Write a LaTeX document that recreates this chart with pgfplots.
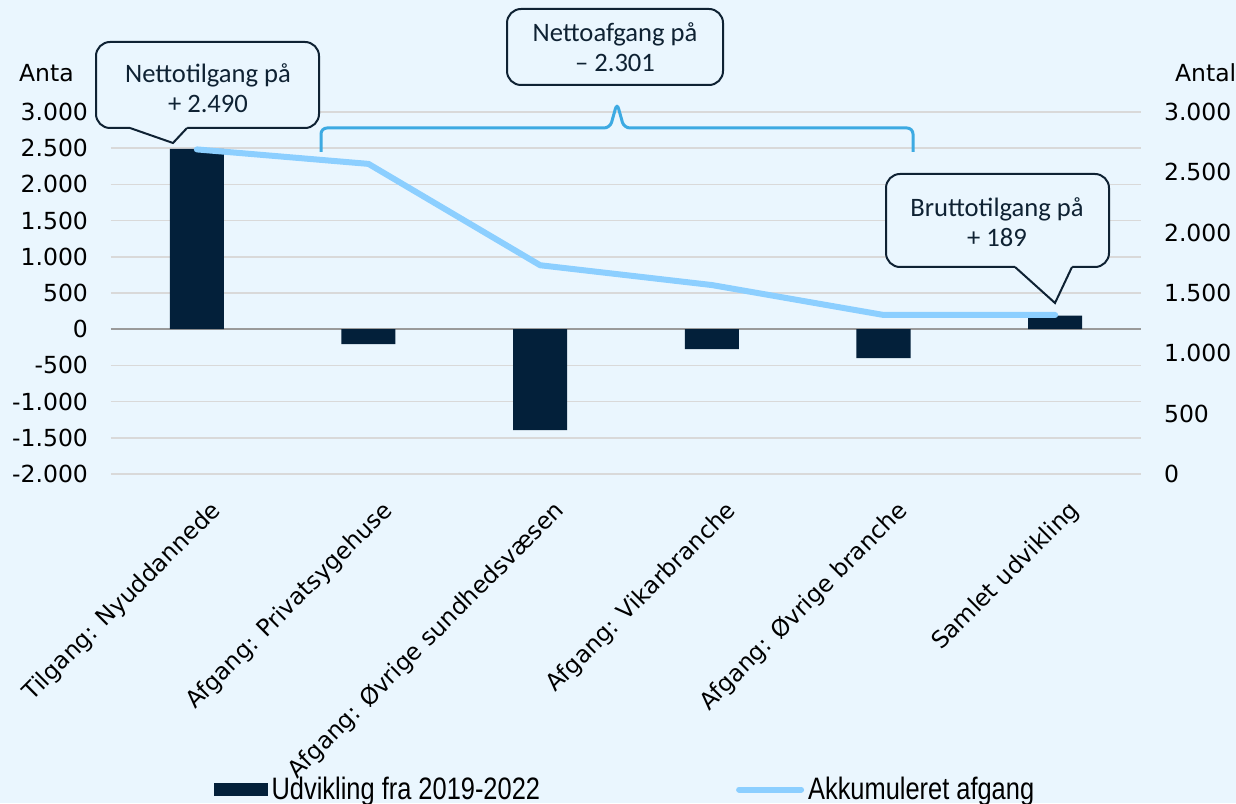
\documentclass[border=0pt]{standalone}
\usepackage{fontspec}
\setmainfont{DejaVu Sans}
\newfontfamily\calfont{Carlito}
\newfontfamily\condfont[FakeStretch=0.82]{Liberation Sans}
\usepackage{pgfplots}
\pgfplotsset{compat=1.18}
\definecolor{bg}{HTML}{EAF6FE}
\definecolor{navy}{HTML}{03203A}
\definecolor{lineblue}{HTML}{8CCFFF}
\definecolor{braceblue}{HTML}{3DAAE2}
\definecolor{boxc}{HTML}{0F2233}
\definecolor{gridc}{HTML}{D9D9D9}
\definecolor{zeroc}{HTML}{9A9A9A}
\begin{document}
\begin{tikzpicture}
\fill[bg] (-55.5pt,-164.5pt) rectangle (562.5pt,237pt);
\useasboundingbox (-55.5pt,-164.5pt) rectangle (562.5pt,237pt);
\begin{axis}[
  at={(0,0)}, anchor=south west,
  width=515pt, height=181pt, scale only axis,
  xmin=-0.5, xmax=5.5, ymin=-2000, ymax=3000,
  axis line style={draw=none}, major tick length=0pt,
  ytick={-2000,-1500,...,3000},
  yticklabels={-2.000,-1.500,-1.000,-500,0,500,1.000,1.500,2.000,2.500,3.000},
  xtick={0,1,2,3,4,5},
  xticklabels={Tilgang: Nyuddannede,Afgang: Privatsygehuse,Afgang: Øvrige sundhedsvæsen,Afgang: Vikarbranche,Afgang: Øvrige branche,Samlet udvikling},
  tick label style={font=\fontsize{11.75}{14}\selectfont, text=black},
  yticklabel style={anchor=east, xshift=-8pt},
  xticklabel style={rotate=45, anchor=east, font=\fontsize{11.75}{14}\selectfont, xshift=-1pt, yshift=-19pt},
  ymajorgrids, grid style={gridc, line width=0.75pt},
  ybar, bar width=27pt,
]
\draw[zeroc, line width=0.75pt] (axis cs:-0.5,0) -- (axis cs:5.5,0);
\addplot[fill=navy, draw=none] coordinates {(0,2490)(1,-207)(2,-1395)(3,-276)(4,-400)(5,189)};
\end{axis}
\begin{axis}[
  at={(0,0)}, anchor=south west,
  width=515pt, height=181pt, scale only axis,
  xmin=-0.5, xmax=5.5, ymin=0, ymax=3000,
  axis line style={draw=none}, major tick length=0pt,
  xtick=\empty,
  ytick={0,500,...,3000},
  yticklabels={0,500,1.000,1.500,2.000,2.500,3.000},
  yticklabel pos=right,
  tick label style={font=\fontsize{11.75}{14}\selectfont, text=black},
  yticklabel style={anchor=west, xshift=8pt},
  legend columns=2,
  legend style={at={(0.5,-0.872)}, anchor=center, draw=none, fill=none,
    font=\condfont\fontsize{15.5}{17}\selectfont, inner sep=0pt,
    /tikz/every even column/.append style={column sep=96pt}},
  legend cell align=left,
]
\addlegendimage{legend image code/.code={\fill[navy] (0pt,-3pt) rectangle (26.5pt,3pt);}}
\addlegendentry{Udvikling fra 2019-2022}
\addplot[lineblue, line width=3pt, line join=round, line cap=round,
  legend image code/.code={\draw[lineblue, line width=3pt, line cap=round] (1pt,0pt) -- (32pt,0pt);}]
  coordinates {(0,2690)(1,2570)(2,1730)(3,1566)(4,1318)(5,1318)};
\addlegendentry{Akkumuleret afgang}
\end{axis}
\begin{scope}[x=0.5pt,y=-0.5pt,shift={(-55.5pt,237pt)}]
\node[anchor=west, font=\fontsize{11.75}{14}\selectfont] at (12,73) {Anta};
\node[anchor=west, font=\fontsize{11.75}{14}\selectfont] at (1168,73) {Antal};
% brace
\draw[braceblue, line width=1.5pt, rounded corners=3pt] (321,152) -- (321,128) -- (610,128) -- (617,103) -- (624,128) -- (913,128) -- (913,152);
% callout 1
\draw[boxc, line width=1pt, fill=bg, rounded corners=7pt] (96,42) rectangle (319,128);
\fill[bg] (130,125) -- (130,128) -- (173,143) -- (187,128) -- (187,125) -- cycle;
\draw[boxc, line width=1pt, line join=miter] (130,128) -- (173,143) -- (187,128);
\node[align=center, text=boxc, font=\calfont\fontsize{13.3}{15}\selectfont] at (208,88) {Nettotilgang på\\+ 2.490};
% callout 2
\draw[boxc, line width=1pt, fill=bg, rounded corners=7pt] (507,9) rectangle (723,85);
\node[align=center, text=boxc, font=\calfont\fontsize{13.3}{15}\selectfont] at (615,47) {Nettoafgang på\\– 2.301};
% callout 3
\draw[boxc, line width=1pt, fill=bg, rounded corners=7pt] (886,174) rectangle (1109,267);
\fill[bg] (1015,264) -- (1015,267) -- (1055,303) -- (1072,267) -- (1072,264) -- cycle;
\draw[boxc, line width=1pt, line join=miter] (1015,267) -- (1055,303) -- (1072,267);
\node[align=center, text=boxc, font=\calfont\fontsize{13.3}{15}\selectfont] at (997,222) {Bruttotilgang på\\+ 189};
\end{scope}
\end{tikzpicture}
\end{document}
